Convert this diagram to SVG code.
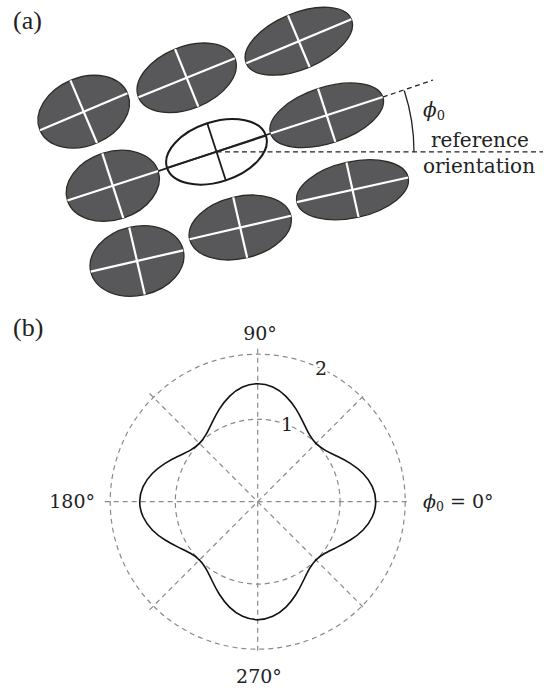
<svg xmlns="http://www.w3.org/2000/svg" width="552" height="690" viewBox="0 0 552 690">
<style>
  .cell ellipse { fill:#58585a; stroke:#2c2c26; stroke-width:1.3; }
  .cell line { stroke:#ffffff; stroke-width:2.2; }
  .ref ellipse { fill:#ffffff; stroke:#1a1a1a; stroke-width:2; }
  .ref line { stroke:#1a1a1a; stroke-width:1.8; }
  .dash { fill:none; stroke:#222; stroke-width:1.3; stroke-dasharray:5 3.5; }
  .solid { fill:none; stroke:#222; stroke-width:1.3; }
  .lbl { font-family:"DejaVu Serif", serif; fill:#222; }
  .panel { font-family:"Liberation Serif", serif; font-size:26px; fill:#222; }
  .grid { fill:none; stroke:#8a8a8a; stroke-width:1.2; stroke-dasharray:5 4; }
  .curve { fill:none; stroke:#111; stroke-width:1.6; stroke-linecap:round; }
  .knock { stroke:#fff; stroke-width:4; paint-order:stroke; }
</style>
<rect width="552" height="690" fill="#fff"/>

<text class="panel" x="13" y="28.5">(a)</text>
<text class="panel" x="13" y="336">(b)</text>

<g id="e1" class="cell" transform="translate(83.7,111.7) rotate(-23)"><ellipse rx="47.5" ry="34"/><line x1="-47.5" x2="47.5"/><line y1="-34" y2="34"/></g>
<g id="e2" class="cell" transform="translate(186.7,77.8) rotate(-22)"><ellipse rx="52" ry="31"/><line x1="-52" x2="52"/><line y1="-31" y2="31"/></g>
<g id="e3" class="cell" transform="translate(298.8,41.2) rotate(-22.7)"><ellipse rx="57" ry="28"/><line x1="-57" x2="57"/><line y1="-28" y2="28"/></g>
<g id="e4" class="cell" transform="translate(112.8,185.8) rotate(-18)"><ellipse rx="47.7" ry="34"/><line x1="-47.7" x2="47.7"/><line y1="-34" y2="34"/></g>
<g id="e6" class="cell" transform="translate(326.7,115.3) rotate(-18)"><ellipse rx="59" ry="28"/><line x1="-59" x2="59"/><line y1="-28" y2="28"/></g>
<g id="e7" class="cell" transform="translate(137,261) rotate(-13)"><ellipse rx="47.5" ry="34.5"/><line x1="-47.5" x2="47.5"/><line y1="-34.5" y2="34.5"/></g>
<g id="e8" class="cell" transform="translate(240.2,227.5) rotate(-13)"><ellipse rx="52" ry="31"/><line x1="-52" x2="52"/><line y1="-31" y2="31"/></g>
<g id="e9" class="cell" transform="translate(352.5,189.8) rotate(-12.5)"><ellipse rx="57" ry="28"/><line x1="-57" x2="57"/><line y1="-28" y2="28"/></g>
<g id="e5" class="ref" transform="translate(216.5,151.8) rotate(-18)"><ellipse rx="52" ry="30"/><line x1="-52" x2="52"/><line y1="-30" y2="30"/></g>

<g id="connectors">
  <line x1="158.2" y1="171.1" x2="270.6" y2="133.5" stroke="#222" stroke-width="1.8"/>
  <line class="dash" x1="216.5" y1="151.8" x2="543" y2="151.8"/>
  <line class="dash" x1="382.8" y1="97.1" x2="433" y2="80"/>
  <path class="solid" d="M414,151.8 A197.5,197.5 0 0 0 404.3,90.8"/>
</g>

<g id="labels-a" class="lbl" font-size="20">
  <text x="423" y="117"><tspan font-style="italic">ϕ</tspan><tspan font-size="13" dy="3">0</tspan></text>
  <text x="431" y="146.5">reference</text>
  <text x="423" y="172.5">orientation</text>
</g>

<g id="polar" transform="translate(257.7,501.7)">
  <g id="grid">
    <circle class="grid" r="82.4"/>
    <circle class="grid" r="147.5"/>
    <line class="grid" x1="-153" y1="0" x2="153" y2="0"/>
    <line class="grid" x1="0" y1="-153" x2="0" y2="153"/>
    <line class="grid" x1="-108.2" y1="-108.2" x2="108.2" y2="108.2"/>
    <line class="grid" x1="-108.2" y1="108.2" x2="108.2" y2="-108.2"/>
  </g>
  <g id="curve">
    <g id="q">
      <path id="oct" class="curve" d="M118,0 C118,-5.149 116.824,-10.292 114.625,-15.091 C112.426,-19.890 109.214,-24.335 105.383,-28.237 C101.552,-32.139 97.116,-35.495 92.573,-38.345 C88.030,-41.195 83.390,-43.545 79.068,-45.65 C74.746,-47.755 70.748,-49.625 67.264,-51.614 C63.780,-53.603 60.808,-55.724 58.266,-58.266"/>
      <use href="#oct" transform="matrix(0,-1,-1,0,0,0)"/>
    </g>
    <use href="#q" transform="scale(-1,1)"/>
    <use href="#q" transform="scale(1,-1)"/>
    <use href="#q" transform="scale(-1,-1)"/>
  </g>
</g>

<g id="labels-b" class="lbl" font-size="19">
  <text x="260" y="339.5" text-anchor="middle">90°</text>
  <text x="259" y="683" text-anchor="middle">270°</text>
  <text x="95" y="508" text-anchor="end">180°</text>
  <text x="423" y="508"><tspan font-style="italic">ϕ</tspan><tspan font-size="12.5" dy="3">0</tspan><tspan dy="-3"> = 0°</tspan></text>
  <text class="knock" x="321" y="375" text-anchor="middle">2</text>
  <text class="knock" x="287" y="431" text-anchor="middle">1</text>
</g>
</svg>
